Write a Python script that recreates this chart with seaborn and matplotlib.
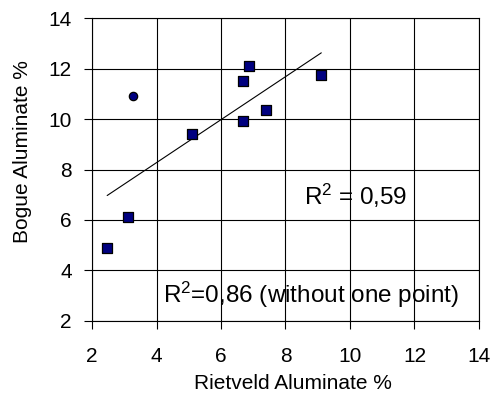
import matplotlib
matplotlib.use("Agg")
import matplotlib.pyplot as plt
import seaborn as sns
import pandas as pd

# Aluminate content: Rietveld refinement vs. Bogue calculation
rietveld = [2.47, 3.11, 5.10, 6.68, 6.88, 6.68, 7.38, 9.11]
bogue = [4.88, 6.13, 9.39, 11.50, 12.09, 9.93, 10.36, 11.76]
outlier_rietveld = [3.27]
outlier_bogue = [10.90]

ticks = [2, 4, 6, 8, 10, 12, 14]
r2_all = "0,59"
r2_without = "0,86"

sns.set_style("ticks")
plt.rcParams["font.family"] = ["Liberation Sans", "DejaVu Sans"]
plt.rcParams["mathtext.fontset"] = "custom"
plt.rcParams["mathtext.rm"] = "Liberation Sans"
plt.rcParams["mathtext.it"] = "Liberation Sans:italic"

squares = pd.DataFrame({"x": rietveld, "y": bogue})
extra = pd.DataFrame({"x": outlier_rietveld, "y": outlier_bogue})
everything = pd.concat([squares, extra], ignore_index=True)

fig = plt.figure(figsize=(4.96, 4.03), dpi=100)
ax = fig.add_axes([0.1855, 0.2035, 0.7802, 0.7518])

ax.set_xlim(2, 14)
ax.set_ylim(2, 14)
ax.set_xticks(ticks)
ax.set_yticks(ticks)
ax.grid(True, color="black", linewidth=0.8)
ax.set_axisbelow(True)

# linear trend over all nine samples
sns.regplot(data=everything, x="x", y="y", ax=ax, scatter=False, ci=None,
            truncate=True, line_kws={"color": "black", "linewidth": 0.8})

sns.scatterplot(data=squares, x="x", y="y", ax=ax, marker="s", s=42,
                color="#000080", edgecolor="black", linewidth=0.9, zorder=5)
sns.scatterplot(data=extra, x="x", y="y", ax=ax, marker="o", s=36,
                color="#000080", edgecolor="black", linewidth=0.9, zorder=5)

ax.text(8.58, 6.6, r"R$^2$ = " + r2_all, fontsize=17.5, ha="left",
        va="baseline", color="black")
ax.text(4.19, 2.70, r"R$^2$=" + r2_without + " (without one point)",
        fontsize=17.5, ha="left", va="baseline", color="black")

for side in ["left", "right", "top", "bottom"]:
    ax.spines[side].set_color("black")
    ax.spines[side].set_linewidth(0.8)

ax.tick_params(axis="both", which="major", direction="out", length=5.5,
               width=0.8, color="black", labelsize=15, labelcolor="black")
ax.tick_params(axis="x", pad=13)
ax.tick_params(axis="y", pad=9)

ax.set_xlabel("Rietveld Aluminate %", fontsize=15, color="black")
ax.set_ylabel("Bogue Aluminate %", fontsize=15, color="black")
ax.xaxis.set_label_coords(0.518, -0.175)
ax.xaxis.label.set_va("top")
ax.yaxis.set_label_coords(-0.155, 0.558)

fig.savefig("out.png", dpi=100, facecolor="white")
